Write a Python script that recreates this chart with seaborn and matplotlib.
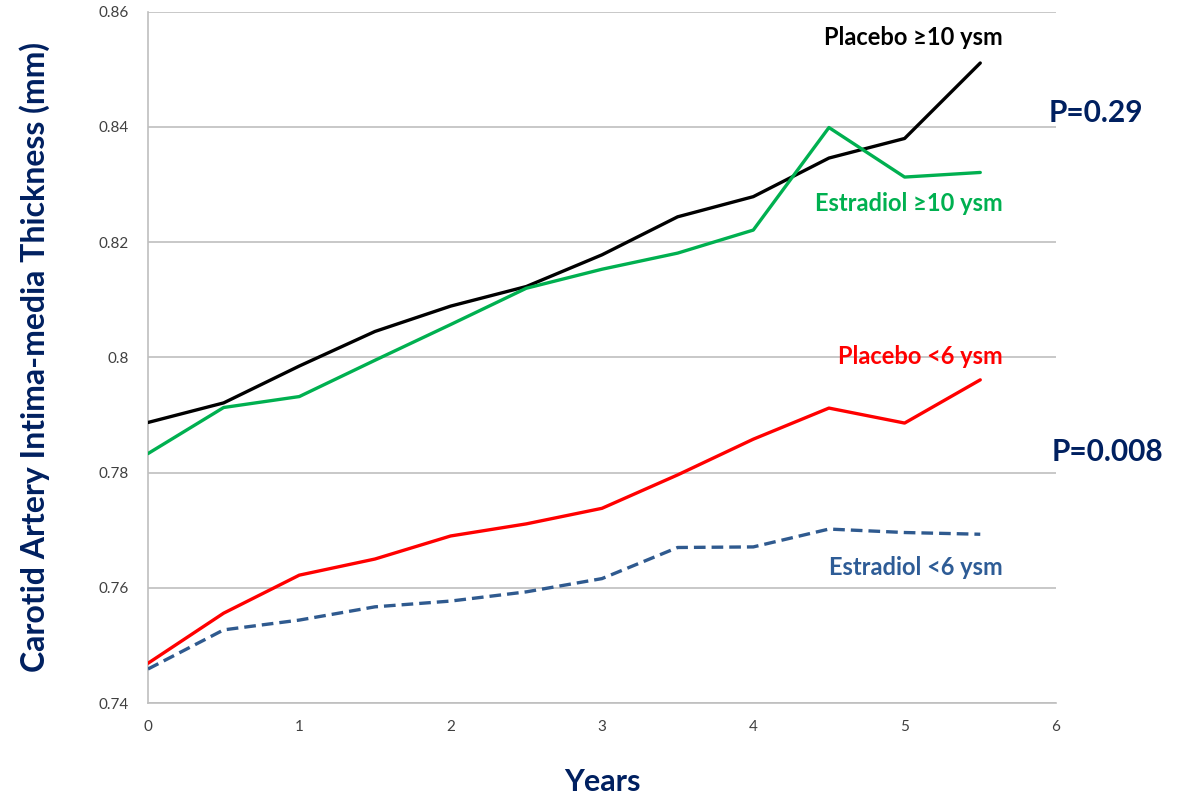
import matplotlib
matplotlib.use("Agg")
import matplotlib.pyplot as plt
import seaborn as sns
import pandas as pd

# Follow-up time points (years)
years = [0, 0.5, 1, 1.5, 2, 2.5, 3, 3.5, 4, 4.5, 5, 5.5]

# Mean carotid artery intima-media thickness (mm) per group
placebo_late = [0.7887, 0.7921, 0.7985, 0.8045, 0.8089, 0.8123, 0.8178, 0.8244, 0.8279, 0.8346, 0.8380, 0.8511]
estradiol_late = [0.7833, 0.7913, 0.7932, 0.7995, 0.8057, 0.8120, 0.8153, 0.8181, 0.8221, 0.8399, 0.8313, 0.8321]
placebo_early = [0.7469, 0.7556, 0.7622, 0.7650, 0.7690, 0.7711, 0.7738, 0.7796, 0.7858, 0.7912, 0.7886, 0.7961]
estradiol_early = [0.7459, 0.7527, 0.7544, 0.7567, 0.7577, 0.7593, 0.7616, 0.7670, 0.7671, 0.7702, 0.7696, 0.7693]

group_names = ["Placebo \u226510 ysm", "Estradiol \u226510 ysm", "Placebo <6 ysm", "Estradiol <6 ysm"]
p_labels = ["P=0.29", "P=0.008"]
x_ticks = [0, 1, 2, 3, 4, 5, 6]
y_ticks = [0.74, 0.76, 0.78, 0.80, 0.82, 0.84, 0.86]
y_tick_labels = ["0.74", "0.76", "0.78", "0.8", "0.82", "0.84", "0.86"]

series = [placebo_late, estradiol_late, placebo_early, estradiol_early]
colors = ["#000000", "#00B050", "#FF0000", "#2F5A8F"]
label_colors = ["#000000", "#00B050", "#FF0000", "#2E5C96"]
navy = "#002060"

frames = []
for name, vals in zip(group_names, series):
    frames.append(pd.DataFrame({"Years": years, "IMT": vals, "Group": name}))
df = pd.concat(frames, ignore_index=True)

sns.set_theme(style="white")
plt.rcParams["font.family"] = ["Lato", "DejaVu Sans"]

fig = plt.figure(figsize=(11.81, 7.98), dpi=100)
ax = fig.add_axes([0.1253, 0.119, 0.7688, 0.8663])

sns.lineplot(
    data=df, x="Years", y="IMT", hue="Group", style="Group",
    hue_order=group_names, style_order=group_names,
    palette=dict(zip(group_names, colors)),
    dashes={group_names[0]: "", group_names[1]: "", group_names[2]: "", group_names[3]: (3.5, 1.8)},
    linewidth=2.4, legend=False, ax=ax, zorder=3,
)

ax.set_xlim(0, 6)
ax.set_ylim(0.74, 0.86)
ax.set_xticks(x_ticks)
ax.set_xticklabels([str(t) for t in x_ticks])
ax.set_yticks(y_ticks)
ax.set_yticklabels(y_tick_labels)
ax.tick_params(axis="both", length=0, labelsize=11, labelcolor="#404040")
ax.tick_params(axis="x", pad=12)
ax.tick_params(axis="y", pad=14)

ax.yaxis.grid(True, color="#BFBFBF", linewidth=1.2)
ax.xaxis.grid(False)
for side in ["top", "right"]:
    ax.spines[side].set_visible(False)
for side in ["left", "bottom"]:
    ax.spines[side].set_color("#BFBFBF")
    ax.spines[side].set_linewidth(1.2)

ax.set_xlabel("Years", fontsize=22, fontweight="bold", color=navy, labelpad=25)
ax.set_ylabel("Carotid Artery Intima-media Thickness (mm)", fontsize=23,
              fontweight="bold", color=navy, labelpad=35)

# Group labels placed next to the line ends
label_pos = [(5.65, 0.8556), (5.65, 0.8267), (5.65, 0.8001), (5.65, 0.7636)]
for name, (lx, ly), c in zip(group_names, label_pos, label_colors):
    ax.text(lx, ly, name, color=c, fontsize=17, fontweight="bold",
            ha="right", va="center", clip_on=False)

# Significance annotations to the right of the plotting area
ax.text(5.95, 0.8424, p_labels[0], color=navy, fontsize=21.5,
        fontweight="bold", ha="left", va="center", clip_on=False)
ax.text(5.97, 0.7836, p_labels[1], color=navy, fontsize=21.5,
        fontweight="bold", ha="left", va="center", clip_on=False)

fig.savefig("out.png", dpi=100, facecolor="white")
